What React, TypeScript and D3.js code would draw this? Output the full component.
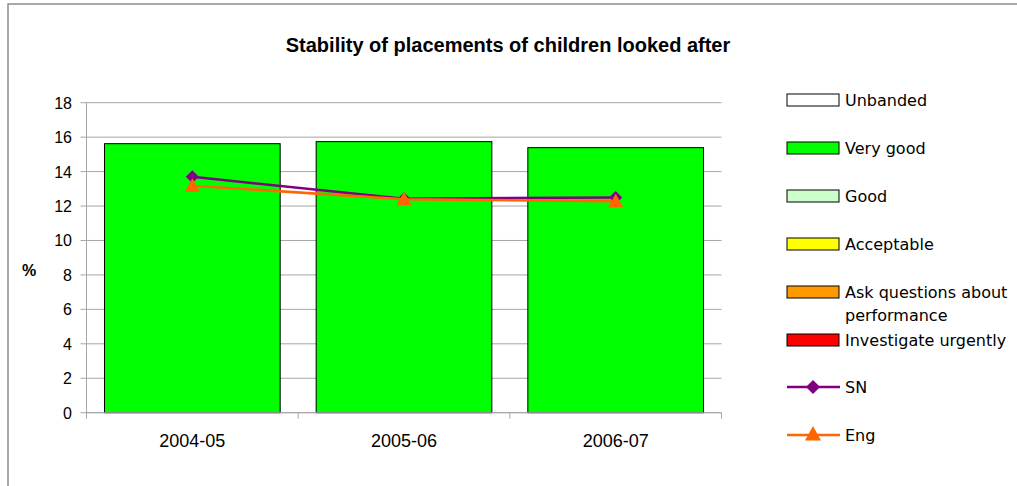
import React from "react";
import * as d3 from "d3";

const categories = ["2004-05", "2005-06", "2006-07"];
const veryGood = [15.62, 15.74, 15.39];
const snValues = [13.7, 12.42, 12.5];
const engValues = [13.18, 12.4, 12.28];
const yTicks = [0, 2, 4, 6, 8, 10, 12, 14, 16, 18];
const legendBars = [
  { label: ["Unbanded"], fill: "#FFFFFF" },
  { label: ["Very good"], fill: "#00FF00" },
  { label: ["Good"], fill: "#CCFFCC" },
  { label: ["Acceptable"], fill: "#FFFF00" },
  { label: ["Ask questions about", "performance"], fill: "#FF9900" },
  { label: ["Investigate urgently"], fill: "#FF0000" },
];

const W = 1017;
const H = 486;
const plot = { left: 86.5, right: 721.5, top: 102.7, bottom: 412.7 };
const SN_COLOR = "#800080";
const ENG_COLOR = "#FF6600";

export default function App() {
  const x = d3
    .scaleBand<string>()
    .domain(categories)
    .range([plot.left, plot.right])
    .paddingInner(0.17)
    .paddingOuter(0.085);
  const xOuter = d3.scaleBand<string>().domain(categories).range([plot.left, plot.right]);
  const y = d3.scaleLinear().domain([0, 18]).range([plot.bottom, plot.top]);
  const cx = (c: string) => (xOuter(c) as number) + xOuter.bandwidth() / 2;
  const line = d3
    .line<number>()
    .x((_, i) => cx(categories[i]))
    .y((d) => y(d));

  const font = "'Liberation Sans', Arial, sans-serif";
  const legendFont = "'DejaVu Sans', Tahoma, sans-serif";
  const diamond = (px: number, py: number, r: number) =>
    `M${px},${py - r}L${px + r},${py}L${px},${py + r}L${px - r},${py}Z`;
  const triangle = (px: number, py: number, r: number) =>
    `M${px},${py - r}L${px + r},${py + r * 0.8}L${px - r},${py + r * 0.8}Z`;

  const legX = 787;
  const legY0 = 100;
  const legStep = 48;

  return (
    <svg
      width={W}
      height={H}
      style={{ position: "absolute", left: 0, top: 0 }}
      xmlns="http://www.w3.org/2000/svg"
    >
      <rect x={0} y={0} width={W} height={H} fill="#FFFFFF" />
      <rect x={8} y={4} width={W + 20} height={H + 20} fill="none" stroke="#8C8C8C" strokeWidth={1.5} />
      <text
        x={508}
        y={52}
        textAnchor="middle"
        fontFamily={font}
        fontWeight="bold"
        fontSize={20}
        fill="#000"
      >
        Stability of placements of children looked after
      </text>

      {/* gridlines */}
      {yTicks.map((t) => (
        <line
          key={"g" + t}
          x1={plot.left - 6}
          x2={plot.right}
          y1={y(t)}
          y2={y(t)}
          stroke="#A6A6A6"
          strokeWidth={1}
        />
      ))}
      {/* y axis */}
      <line x1={plot.left} x2={plot.left} y1={plot.top} y2={plot.bottom} stroke="#A6A6A6" strokeWidth={1} />
      {yTicks.map((t) => (
        <text
          key={"yt" + t}
          x={72}
          y={y(t) + 6}
          textAnchor="end"
          fontFamily={font}
          fontSize={16}
          fill="#000"
        >
          {t}
        </text>
      ))}
      <text x={29} y={276} textAnchor="middle" fontFamily={font} fontWeight="bold" fontSize={16} fill="#000">
        %
      </text>

      {/* x ticks */}
      {[...categories.map((c) => xOuter(c) as number), plot.right].map((px, i) => (
        <line key={"xt" + i} x1={px} x2={px} y1={plot.bottom} y2={plot.bottom + 6} stroke="#A6A6A6" />
      ))}
      {categories.map((c) => (
        <text key={"xl" + c} x={cx(c)} y={447} textAnchor="middle" fontFamily={font} fontSize={18} fill="#000">
          {c}
        </text>
      ))}

      {/* bars */}
      {categories.map((c, i) => (
        <rect
          key={"b" + c}
          x={x(c) as number}
          y={y(veryGood[i])}
          width={x.bandwidth()}
          height={y(0) - y(veryGood[i])}
          fill="#00FF00"
          stroke="#000"
          strokeWidth={1}
        />
      ))}
      <line x1={plot.left} x2={plot.right} y1={plot.bottom} y2={plot.bottom} stroke="#A6A6A6" />

      {/* lines */}
      <path d={line(snValues) || ""} fill="none" stroke={SN_COLOR} strokeWidth={2.5} />
      {snValues.map((v, i) => (
        <path key={"sn" + i} d={diamond(cx(categories[i]), y(v), 6.5)} fill={SN_COLOR} />
      ))}
      <path d={line(engValues) || ""} fill="none" stroke={ENG_COLOR} strokeWidth={2.5} />
      {engValues.map((v, i) => (
        <path key={"en" + i} d={triangle(cx(categories[i]), y(v), 7.5)} fill={ENG_COLOR} />
      ))}

      {/* legend */}
      {legendBars.map((lb, i) => {
        const cy = legY0 + i * legStep;
        return (
          <g key={"lg" + i}>
            <rect x={legX} y={cy - 6} width={52} height={12} fill={lb.fill} stroke="#000" strokeWidth={1} />
            {lb.label.map((s, j) => (
              <text
                key={j}
                x={845}
                y={cy + 6 + j * 23}
                fontFamily={legendFont}
                fontSize={16}
                fill="#000"
              >
                {s}
              </text>
            ))}
          </g>
        );
      })}
      {[
        { label: "SN", color: SN_COLOR, kind: "d" },
        { label: "Eng", color: ENG_COLOR, kind: "t" },
      ].map((it, k) => {
        const cy = legY0 + (6 + k) * legStep - 1;
        return (
          <g key={"ll" + k}>
            <line x1={legX} x2={legX + 53} y1={cy} y2={cy} stroke={it.color} strokeWidth={2.5} />
            <path
              d={it.kind === "d" ? diamond(legX + 26, cy, 7) : triangle(legX + 26, cy - 1, 8)}
              fill={it.color}
            />
            <text x={845} y={cy + 6} fontFamily={legendFont} fontSize={16} fill="#000">
              {it.label}
            </text>
          </g>
        );
      })}
    </svg>
  );
}
